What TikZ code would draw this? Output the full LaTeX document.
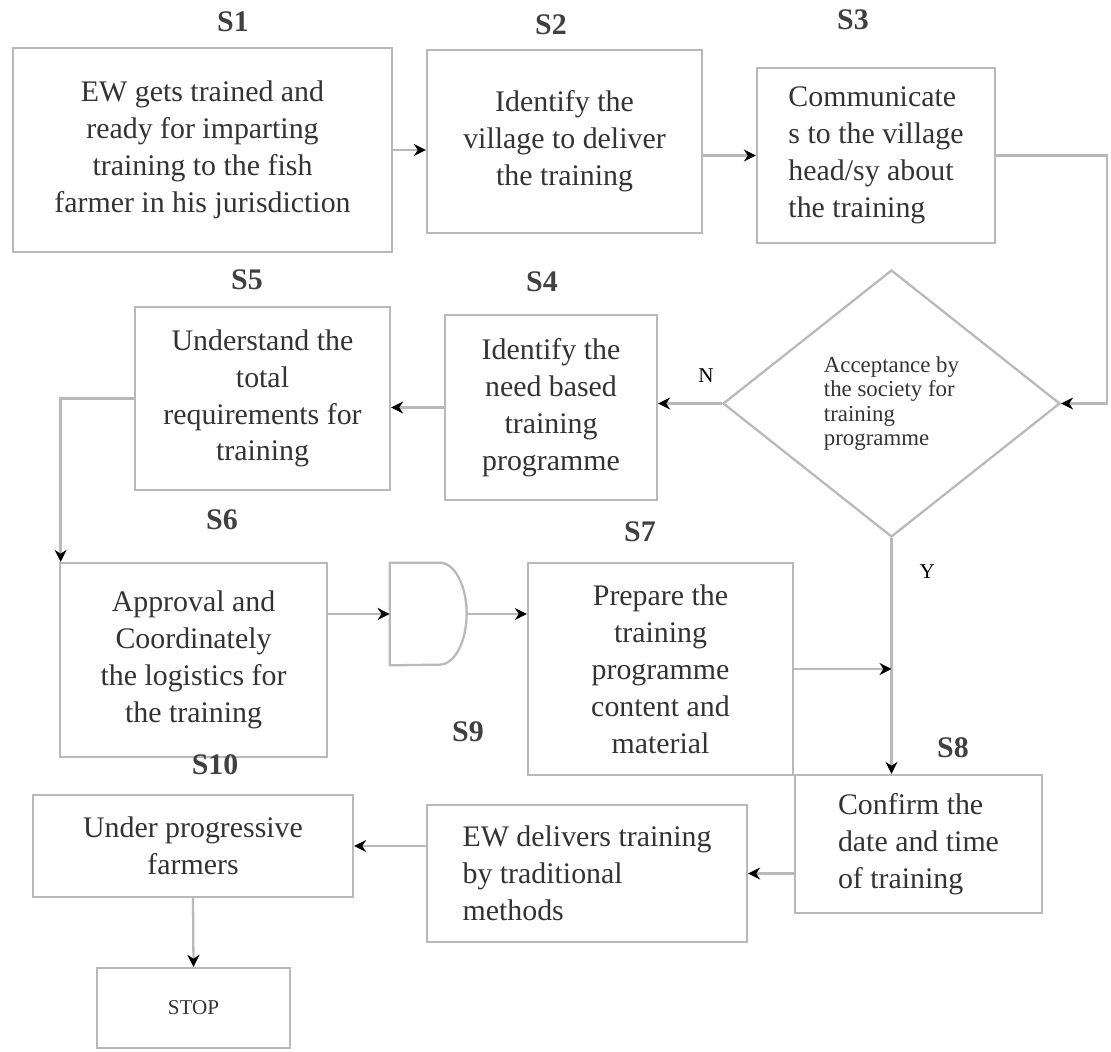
\documentclass[tikz,border=0pt]{standalone}
\usepackage{fontspec}
\setmainfont{Liberation Serif}
\usetikzlibrary{shapes.geometric, arrows.meta, positioning, calc}

\begin{document}
\begin{tikzpicture}[font=\fontsize{17}{21}\selectfont,
    box/.style={draw=gray!55, line width=1.3pt, align=center, inner sep=0pt, text=black!80},
    lbl/.style={font=\fontsize{17}{20}\selectfont\bfseries, text=black!75},
    arr/.style={draw=gray!55, line width=1.3pt, -{Stealth[color=black, length=2.4mm, width=2.4mm]}},
    link/.style={draw=gray!55, line width=1.3pt}]
    \useasboundingbox (0,0) rectangle (22.22,21.04);
    % first row
    \node[box, minimum width=7.58cm, minimum height=4.08cm] (S1) at (4.05,18.04) {EW gets trained and\\ready for imparting\\training to the fish\\farmer in his jurisdiction};
    \node[box, minimum width=5.5cm, minimum height=3.66cm] (S2) at (11.29,18.21) {Identify the\\village to deliver\\the training};
    \node[box, align=left, minimum width=4.76cm, minimum height=3.5cm] (S3) at (17.52,17.93) {Communicate\\s to the village\\head/sy about\\the training};
    % second row
    \node[box, shape=diamond, aspect=1.26, align=left, minimum width=6.74cm, minimum height=5.34cm,
          font=\fontsize{13}{14}\selectfont] (dec) at (17.83,12.97) {Acceptance by\\the society for\\training\\programme};
    \node[box, minimum width=4.24cm, minimum height=3.7cm] (S4) at (11.02,12.89) {Identify the\\need based\\training\\programme};
    \node[box, minimum width=5.1cm, minimum height=3.66cm] (S5) at (5.25,13.07) {Understand the\\total\\requirements for\\training};
    % third row
    \node[box, minimum width=5.34cm, minimum height=3.88cm] (S6) at (3.87,7.84) {Approval and\\Coordinately\\the logistics for\\the training};
    \node[inner sep=0pt, minimum width=1.54cm, minimum height=2.04cm] (gate) at (8.57,8.76) {};
    \draw[link] (gate.north west) -- ++(1.0,0) arc[start angle=90, end angle=-90, x radius=0.54cm, y radius=1.02cm] -- (gate.south west) -- cycle;
    \node[box, minimum width=5.3cm, minimum height=4.24cm] (S7) at (13.21,7.66) {Prepare the\\training\\programme\\content and\\material};
    % fourth row
    \node[box, align=left, minimum width=4.94cm, minimum height=2.76cm] (S8) at (18.37,4.16) {Confirm the\\date and time\\of training};
    \node[box, align=left, minimum width=6.4cm, minimum height=2.74cm] (S9) at (11.74,3.57) {EW delivers training\\by traditional\\methods};
    \node[box, minimum width=6.4cm, minimum height=2.04cm] (S10) at (3.86,4.12) {Under progressive\\farmers};
    \node[box, minimum width=3.86cm, minimum height=1.6cm, font=\fontsize{12}{14}\selectfont] (stop) at (3.87,0.88) {STOP};
    % step labels
    \node[lbl] (l1) at (4.66,20.6) {S1};
    \node[lbl] (l2) at (11.02,20.54) {S2};
    \node[lbl] (l3) at (17.06,20.64) {S3};
    \node[lbl] (l5) at (4.94,15.44) {S5};
    \node[lbl] (l4) at (10.84,15.4) {S4};
    \node[lbl] (l6) at (4.44,10.64) {S6};
    \node[lbl] (l7) at (12.8,10.4) {S7};
    \node[lbl] (l9) at (9.36,6.4) {S9};
    \node[lbl] (l8) at (19.06,6.08) {S8};
    \node[lbl] (l10) at (4.3,5.74) {S10};
    % connectors
    \coordinate (rr) at (22.14,12.97);
    \draw[arr] (S1.east) -- (S1.east -| S2.west);
    \draw[arr] (S2.east |- S3.west) -- (S3.west);
    \draw[arr] (S3.east) -| (rr) -- (dec.east);
    \draw[arr] (dec.west) -- node[pos=0.25, above=8pt, font=\fontsize{12}{14}\selectfont] {N} (dec.west -| S4.east);
    \draw[arr] (S4.west) -- (S4.west -| S5.east);
    \draw[arr] (S5.west) -| ([xshift=1pt]S6.north west);
    \draw[arr] (S6.east |- gate.west) -- (gate.west);
    \draw[arr] (gate.east) -- (gate.east -| S7.west);
    \draw[arr] (dec.south) -- node[pos=0.14, right=12pt, font=\fontsize{12}{14}\selectfont] {Y} (dec.south |- S8.north);
    \draw[arr] (S7.east) -- (S7.east -| dec.south);
    \draw[arr] (S9.east -| S8.west) -- (S9.east);
    \draw[arr] (S9.west |- S10.east) -- (S10.east);
    \draw[arr] (S10.south) -- (stop.north);
\end{tikzpicture}
\end{document}
